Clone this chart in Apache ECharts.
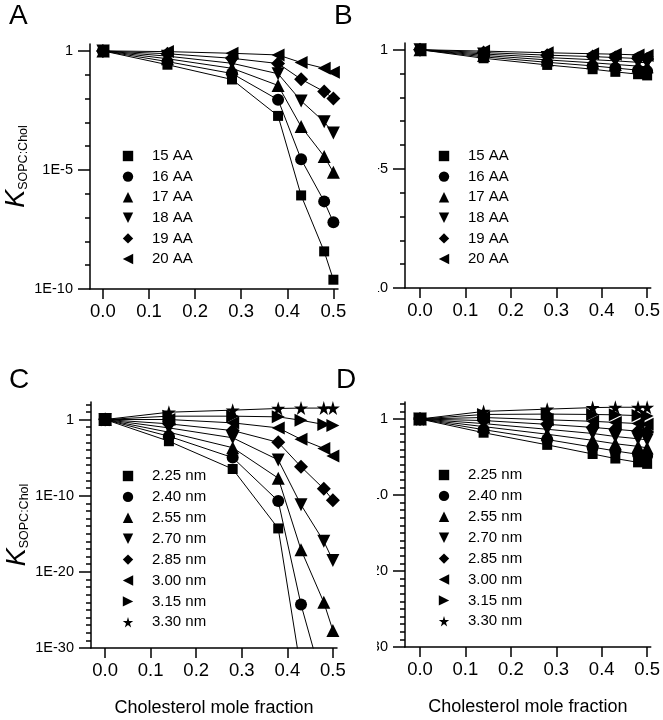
<!DOCTYPE html>
<html><head><meta charset="utf-8">
<script src="https://cdn.jsdelivr.net/npm/echarts@6/dist/echarts.min.js"></script>
<style>html,body{margin:0;padding:0;background:#fff}#c{width:663px;height:720px}</style>
</head><body><div id="c"></div>
<script>
// ---------- data (y values are log10 of K_SOPC:Chol) ----------
const xCholesterol = [0, 0.14, 0.28, 0.38, 0.43, 0.48, 0.50];

const namesAA = ['15 AA', '16 AA', '17 AA', '18 AA', '19 AA', '20 AA'];
const A_15AA = [0, -0.58, -1.20, -2.73, -6.07, -8.42, -9.61];
const A_16AA = [0, -0.45, -0.95, -2.05, -4.55, -6.32, -7.20];
const A_17AA = [0, -0.33, -0.73, -1.45, -3.18, -4.43, -5.10];
const A_18AA = [0, -0.22, -0.52, -0.96, -2.10, -2.98, -3.45];
const A_19AA = [0, -0.12, -0.31, -0.53, -1.19, -1.71, -2.00];
const A_20AA = [0, -0.03, -0.10, -0.17, -0.49, -0.73, -0.90];

const B_15AA = [0, -0.36, -0.64, -0.82, -0.93, -1.03, -1.08];
const B_16AA = [0, -0.30, -0.53, -0.68, -0.77, -0.86, -0.90];
const B_17AA = [0, -0.24, -0.43, -0.55, -0.62, -0.69, -0.72];
const B_18AA = [0, -0.18, -0.33, -0.42, -0.47, -0.53, -0.55];
const B_19AA = [0, -0.12, -0.23, -0.29, -0.33, -0.37, -0.39];
const B_20AA = [0, -0.06, -0.13, -0.17, -0.19, -0.22, -0.24];

const namesNm = ['2.25 nm', '2.40 nm', '2.55 nm', '2.70 nm', '2.85 nm', '3.00 nm', '3.15 nm', '3.30 nm'];
const C_225 = [0, -2.85, -6.5, -14.3, -33, -42, -46];
const C_240 = [0, -2.2, -5.0, -10.7, -24.3, -35, -40];
const C_255 = [0, -1.67, -3.7, -7.7, -17.1, -24.0, -27.7];
const C_270 = [0, -1.1, -2.4, -5.3, -11.2, -16.0, -18.5];
const C_285 = [0, -0.57, -1.45, -3.0, -6.2, -9.1, -10.6];
const C_300 = [0, 0.0, -0.44, -1.1, -2.6, -3.8, -4.8];
const C_315 = [0, 0.44, 0.44, 0.35, -0.1, -0.65, -0.8];
const C_330 = [0, 0.96, 1.23, 1.45, 1.5, 1.5, 1.5];

const D_225 = [0, -1.8, -3.4, -4.6, -5.2, -5.7, -5.9];
const D_240 = [0, -1.4, -2.7, -3.7, -4.2, -4.65, -4.85];
const D_255 = [0, -1.0, -2.0, -2.8, -3.25, -3.6, -3.8];
const D_270 = [0, -0.6, -1.35, -1.9, -2.3, -2.6, -2.75];
const D_285 = [0, -0.2, -0.7, -1.1, -1.35, -1.6, -1.7];
const D_300 = [0, 0.2, -0.1, -0.3, -0.45, -0.6, -0.7];
const D_315 = [0, 0.6, 0.65, 0.6, 0.55, 0.45, 0.4];
const D_330 = [0, 1.0, 1.3, 1.5, 1.55, 1.55, 1.55];

const xTicks = [0, 0.1, 0.2, 0.3, 0.4, 0.5];
const yMajorTop = [0, -5, -10];
const yMajorBottom = [0, -10, -20, -30];
const panelLetters = ['A', 'B', 'C', 'D'];
const yTitle = 'SOPC:Chol';
const xTitle = 'Cholesterol mole fraction';

// ---------- style ----------
const FONT = '"Liberation Sans", Arial, sans-serif';
const STAR = 'path://M50,0 L61,35 L98,35 L68,57 L79,91 L50,70 L21,91 L32,57 L2,35 L39,35 Z';
const symAA = [['rect', 0, 10], ['circle', 0, 12], ['triangle', 0, 13], ['triangle', 180, 13], ['diamond', 0, 14], ['triangle', 90, 13]];
const symNm = [['rect', 0, 10], ['circle', 0, 12], ['triangle', 0, 13], ['triangle', 180, 13], ['diamond', 0, 14], ['triangle', 90, 13], ['triangle', -90, 13], [STAR, 0, 14]];

const grids = [
  {left: 90, top: 44, width: 248, height: 245},
  {left: 405, top: 43, width: 247, height: 245},
  {left: 91, top: 402, width: 246, height: 246},
  {left: 405, top: 402, width: 247, height: 245}
];
const xRanges = [[-0.028, 0.51], [-0.033, 0.508], [-0.031, 0.509], [-0.033, 0.508]];
const yRanges = [[-10, 0.29], [-10, 0.28], [-30, 2.3], [-30, 2.24]];

function intRange(a, b) { const r = []; for (let v = a; v <= b; v++) r.push(v); return r; }

const xAxis = [];
const yAxis = [];
// x axes 0..3: visible panel axes
grids.forEach((g, i) => {
  xAxis.push({
    type: 'value', gridIndex: i, position: 'bottom', min: xRanges[i][0], max: xRanges[i][1],
    axisLine: {show: true, onZero: false, lineStyle: {color: '#000', width: 1.5}},
    axisTick: {show: true, length: 10, customValues: xTicks, lineStyle: {color: '#000', width: 1.5}},
    axisLabel: {customValues: xTicks, formatter: v => v.toFixed(1), color: '#000', fontSize: 18.5, fontFamily: FONT, margin: 13},
    splitLine: {show: false},
    name: i >= 2 ? xTitle : '', nameLocation: 'middle', nameGap: 51,
    nameTextStyle: {color: '#000', fontSize: 18, fontFamily: FONT}
  });
});
// x axes 4..7: invisible helpers whose zero lies on each panel's left edge
grids.forEach((g, i) => {
  xAxis.push({
    type: 'value', gridIndex: i, position: 'top', min: 0, max: 1,
    axisLine: {show: false, onZero: false}, axisTick: {show: false}, axisLabel: {show: false}, splitLine: {show: false}
  });
});
// y axes 0..3: visible axis line, a short tick at every decade, labels at the labelled decades
grids.forEach((g, i) => {
  const majors = i < 2 ? yMajorTop : yMajorBottom;
  const minors = intRange(Math.ceil(yRanges[i][0]), Math.floor(yRanges[i][1]));
  yAxis.push({
    type: 'value', gridIndex: i, position: 'left', min: yRanges[i][0], max: yRanges[i][1],
    axisLine: {show: true, onZero: false, lineStyle: {color: '#000', width: 1.5}},
    axisTick: {show: true, length: 5, customValues: minors, lineStyle: {color: '#000', width: 1.5}},
    axisLabel: {
      customValues: minors, showMinLabel: true, showMaxLabel: true,
      formatter: v => (majors.indexOf(v) < 0 ? '' : (v === 0 ? '1' : '1E' + v)),
      color: '#000', fontSize: 14.5, fontFamily: FONT, margin: 17
    },
    splitLine: {show: false},
    name: (i === 0 || i === 2) ? '{k|K}{s|' + yTitle + '}' : '',
    nameLocation: 'middle', nameRotate: 90, nameGap: 54,
    nameTextStyle: {rich: {
      k: {fontSize: 27, fontStyle: 'italic', fontFamily: FONT, color: '#000', lineHeight: 28, verticalAlign: 'bottom'},
      s: {fontSize: 12.5, fontFamily: FONT, color: '#000', lineHeight: 11, verticalAlign: 'bottom'}
    }}
  });
});
// y axes 4..7: long ticks at the labelled decades, sitting on the helper x axis zero (= left edge)
grids.forEach((g, i) => {
  const majors = i < 2 ? yMajorTop : yMajorBottom;
  yAxis.push({
    type: 'value', gridIndex: i, position: 'left', min: yRanges[i][0], max: yRanges[i][1],
    axisLine: {show: false, onZero: true, onZeroAxisIndex: 4 + i},
    axisTick: {show: true, length: 12, customValues: majors, lineStyle: {color: '#000', width: 1.5}},
    axisLabel: {show: true, customValues: majors, formatter: () => '', showMinLabel: true, showMaxLabel: true},
    splitLine: {show: false}
  });
});

function mk(panel, name, vals, sym) {
  return {
    type: 'line', name: name, xAxisIndex: panel, yAxisIndex: panel,
    data: xCholesterol.map((x, k) => [x, vals[k]]),
    symbol: sym[0], symbolRotate: sym[1], symbolSize: sym[2],
    showAllSymbol: true, clip: true,
    lineStyle: {color: '#000', width: 1},
    itemStyle: {color: '#000'},
    emphasis: {disabled: true}
  };
}

const series = [];
[A_15AA, A_16AA, A_17AA, A_18AA, A_19AA, A_20AA].forEach((v, k) => series.push(mk(0, namesAA[k], v, symAA[k])));
[B_15AA, B_16AA, B_17AA, B_18AA, B_19AA, B_20AA].forEach((v, k) => series.push(mk(1, namesAA[k], v, symAA[k])));
[C_225, C_240, C_255, C_270, C_285, C_300, C_315, C_330].forEach((v, k) => series.push(mk(2, namesNm[k], v, symNm[k])));
[D_225, D_240, D_255, D_270, D_285, D_300, D_315, D_330].forEach((v, k) => series.push(mk(3, namesNm[k], v, symNm[k])));

function legend(left, top, names, gap) {
  return {
    left: left, top: top, orient: 'vertical', selectedMode: false,
    itemWidth: 38, itemHeight: 13, itemGap: gap, padding: 0,
    data: names,
    lineStyle: {opacity: 0},
    textStyle: {color: '#000', fontSize: 15, fontFamily: FONT, lineHeight: 13}
  };
}

const letterStyle = {fontSize: 28, fontWeight: 'normal', fontFamily: FONT, color: '#000'};
const option = {
  animation: false,
  backgroundColor: '#fff',
  title: [
    {text: panelLetters[0], left: 9, top: 2, padding: 0, textStyle: letterStyle},
    {text: panelLetters[1], left: 334, top: 2, padding: 0, textStyle: letterStyle},
    {text: panelLetters[2], left: 9, top: 366, padding: 0, textStyle: letterStyle},
    {text: panelLetters[3], left: 336, top: 366, padding: 0, textStyle: letterStyle}
  ],
  grid: grids,
  xAxis: xAxis,
  yAxis: yAxis,
  legend: [
    legend(108, 148.5, namesAA, 5.6),
    legend(424, 148.5, namesAA, 5.6),
    legend(108, 468.5, namesNm, 5.9),
    legend(424, 467.5, namesNm, 5.9)
  ],
  graphic: [
    {type: 'rect', z: 100, shape: {x: 341, y: 32, width: 37, height: 272}, style: {fill: '#fff'}},
    {type: 'rect', z: 100, shape: {x: 341, y: 392, width: 36, height: 268}, style: {fill: '#fff'}}
  ],
  series: series
};
const chart = echarts.init(document.getElementById('c'), null, {renderer: 'canvas'});
chart.setOption(option);
</script>
</body></html>
